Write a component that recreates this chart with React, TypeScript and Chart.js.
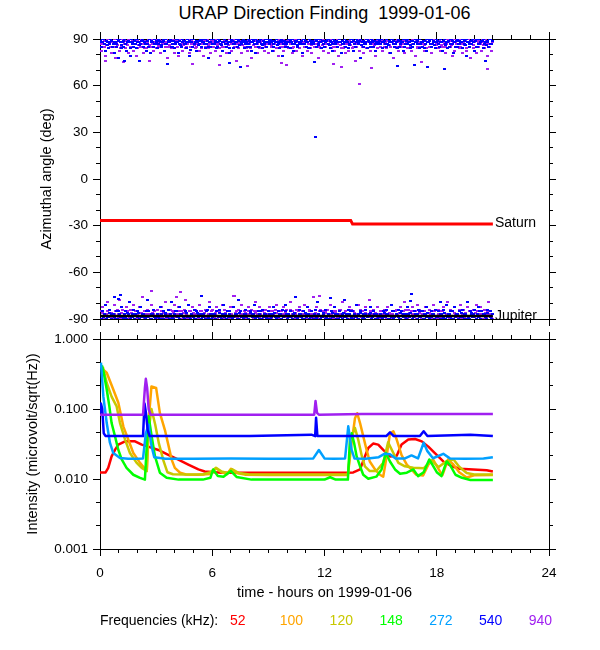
import { useEffect, useRef } from 'react';
import { Chart, registerables } from 'chart.js';

Chart.register(...registerables);

const FONT = '"Liberation Sans", Arial, Helvetica, sans-serif';

// ---------- axes ----------
const HOUR_TICKS = [0, 6, 12, 18, 24];
const HOUR_MINOR = [1, 2, 3, 4, 5, 7, 8, 9, 10, 11, 13, 14, 15, 16, 17, 19, 20, 21, 22, 23];
const ANGLE_TICKS = [-90, -60, -30, 0, 30, 60, 90];
const ANGLE_MINOR = [-80, -70, -50, -40, -20, -10, 10, 20, 40, 50, 70, 80];
const INTENSITY_TICKS = [0.001, 0.01, 0.1, 1];
const INTENSITY_MINOR = [0.00215, 0.00464, 0.0215, 0.0464, 0.215, 0.464];

// ---------- frequencies ----------
const FREQ_LABELS = ['52', '100', '120', '148', '272', '540', '940'];
const FREQ_COLORS = ['#FF0000', '#FFA500', '#C8C800', '#00FF00', '#00A0FF', '#0000FF', '#A020F0'];

// ---------- upper panel: body directions ----------
const SATURN_T = [0, 13.4, 13.5, 21];
const SATURN_ANGLE = [-26.6, -26.6, -29.0, -29.0];
const JUPITER_T = [0, 21];
const JUPITER_ANGLE = [-88, -88];

// direction-finding samples: two interleaved passes (A at i*step, B at (i+0.5)*step),
// offsets in degrees from the +90 / -90 edge
const DF_STEP_H = 0.075;
const TOP_540_OFFSET = [
  2,5,0,3,8,2,6,3,1,5,9,2,3,12,0,6,2,5,3,8,1,2,11,3,5,0,6,2,14,3,1,5,2,8,3,0,9,2,5,3,
  1,6,3,2,5,0,8,3,16,2,1,5,3,6,2,0,9,3,5,2,1,3,6,2,11,0,5,3,2,8,1,3,5,2,0,6,3,12,2,5,
  3,0,2,6,5,1,3,8,2,0,5,3,9,2,1,6,3,2,5,0,18,3,2,6,1,5,3,2,8,0,3,9,2,5,1,3,6,2,0,5,
  2,3,1,8,5,2,0,3,6,2,11,1,5,3,2,0,6,3,8,2,1,5,3,2,9,0,3,5,2,6,1,3,2,15,5,0,3,2,6,1,
  5,2,0,3,6,2,8,1,3,5,2,0,9,3,2,5,1,6,3,2,0,8,5,2,3,1,12,2,5,3,0,6,2,3,1,5,8,2,3,0,
  3,6,2,1,5,3,2,9,0,3,5,2,6,1,3,2,8,5,0,3,2,6,1,5,17,2,3,0,6,2,5,1,3,8,2,0,5,3,2,6,
  0,3,5,2,8,1,3,2,6,5,0,3,9,2,1,5,3,2,6,0,3,11,2,5,1,3,2,8,0,5,3,2,1,6,3,14,2,5,0,3,
];
const TOP_540_OFFSET_B = [
  1,2,0,3,1,4,2,0,1,3,2,5,0,1,2,4,1,0,3,2,1,6,0,2,1,3,0,2,4,1,0,2,3,1,5,0,1,2,0,3,
  2,0,1,4,2,1,0,3,1,2,0,5,1,3,0,2,1,4,0,1,3,2,0,1,7,2,0,3,1,2,4,0,1,2,3,0,1,5,2,0,
  0,3,1,2,0,1,4,2,0,3,1,2,6,0,1,3,2,0,1,4,2,1,0,3,2,0,1,5,2,1,0,3,1,2,0,4,1,3,2,0,
  1,0,2,3,1,0,4,2,1,0,3,1,2,5,0,1,2,0,3,1,4,0,2,1,3,0,1,2,6,0,2,1,3,0,1,4,2,0,1,3,
  2,1,0,4,1,3,0,2,1,5,0,2,1,3,0,1,2,4,0,2,1,3,0,1,2,0,4,1,3,2,0,1,5,0,2,1,3,0,2,1,
  0,2,1,3,0,4,1,2,0,1,3,2,0,5,1,2,0,3,1,0,2,4,1,3,0,2,1,0,3,2,1,6,0,2,1,3,0,1,4,2,
  1,3,0,2,1,0,4,2,1,3,0,1,2,5,0,3,1,2,0,1,4,0,2,3,1,0,2,1,5,0,3,2,1,0,2,4,1,0,3,1,
];
const TOP_940_OFFSET = [
  3,8,2,5,11,0,6,3,9,2,5,12,3,1,8,5,2,15,6,3,9,0,5,2,8,3,11,6,2,5,1,9,3,6,2,14,5,0,8,3,
  6,2,5,9,1,3,8,2,12,5,0,6,3,9,2,5,11,1,3,8,2,6,5,0,9,3,16,2,6,5,1,8,3,2,11,5,0,6,3,9,
  2,5,8,0,3,6,11,2,5,1,9,3,6,2,8,0,5,14,3,6,2,9,1,5,3,8,2,6,12,0,3,5,9,2,6,1,3,8,5,2,
  9,1,5,3,8,2,6,11,0,3,5,8,2,17,6,1,3,9,5,2,8,0,6,3,11,2,5,1,8,3,6,9,2,5,0,3,12,6,2,8,
  1,5,3,9,2,6,0,8,5,3,11,2,6,1,5,9,3,8,2,0,6,5,14,3,2,8,1,5,9,3,6,2,0,8,5,3,11,2,6,1,
  5,8,2,3,6,1,9,5,2,12,3,6,0,8,2,5,3,9,1,6,2,5,8,3,0,11,6,2,5,15,3,8,1,6,2,5,9,3,0,6,
  3,6,1,8,5,2,9,3,6,0,5,11,2,8,3,1,6,5,9,2,3,8,0,5,12,3,6,2,9,1,5,3,8,2,6,0,11,5,3,8,
];
const TOP_940_OFFSET_B = [
  2,0,3,1,4,2,0,5,1,3,0,2,4,1,6,0,2,3,1,4,0,2,5,1,3,0,1,4,2,0,3,6,1,2,0,4,1,3,2,0,
  1,4,0,2,3,1,5,0,2,4,1,3,0,2,1,5,3,0,2,4,1,0,3,2,5,1,0,4,2,3,1,0,6,2,1,3,0,4,2,1,
  3,1,0,4,2,1,3,5,0,2,1,4,0,3,2,1,5,0,2,3,1,4,0,2,6,1,3,0,2,4,1,0,3,5,2,1,0,4,2,3,
  0,2,4,1,3,0,2,1,5,3,0,2,4,1,0,3,2,6,1,0,4,2,3,1,0,5,2,1,3,0,4,2,1,3,0,2,5,1,4,0,
  2,3,1,0,4,2,5,1,3,0,2,4,1,6,0,3,2,1,4,0,2,3,5,1,0,2,4,1,3,0,2,1,5,3,0,4,2,1,3,2,
  1,0,5,2,3,1,4,0,2,3,1,5,0,2,4,1,3,0,2,6,1,4,0,3,2,1,5,0,2,3,1,4,0,2,1,3,5,0,2,4,
  3,2,0,4,1,3,5,0,2,1,4,3,0,2,5,1,0,3,2,4,1,6,0,2,3,1,4,0,5,2,1,3,0,4,2,1,3,5,0,2,
];
const BOT_540_OFFSET = [
  2,0,5,3,9,2,1,6,3,2,14,0,5,2,3,8,1,2,5,0,3,11,2,1,6,3,2,5,0,8,2,3,1,5,12,2,0,3,6,2,
  1,3,2,8,0,5,2,3,1,6,2,11,0,3,5,2,1,8,3,2,0,5,2,9,1,3,2,6,0,5,3,2,15,1,3,2,5,0,8,2,
  3,2,0,5,2,6,1,3,9,2,0,5,3,2,1,8,2,3,0,12,5,2,1,3,6,2,0,5,2,3,9,1,2,5,3,0,6,2,3,1,
  5,0,2,3,8,1,2,5,3,0,6,2,9,3,1,2,5,0,3,14,2,1,6,3,2,5,0,3,8,2,1,5,2,3,0,11,2,5,1,3,
  2,6,0,3,2,5,1,8,3,2,0,5,2,3,12,1,2,6,3,0,5,2,1,9,3,2,5,0,3,6,2,1,3,8,2,5,0,3,2,1,
  3,1,5,2,6,3,0,2,9,5,1,3,2,6,0,5,3,2,1,8,3,2,16,0,5,2,3,6,1,2,5,0,3,8,2,1,5,3,2,6,
  1,5,2,3,0,6,2,9,1,3,5,2,0,8,3,2,5,1,6,2,3,0,11,2,5,3,1,6,2,3,8,0,5,2,3,1,6,2,5,0,
];
const BOT_540_OFFSET_B = [
  0,2,1,3,0,1,4,2,0,3,1,2,0,5,1,2,0,3,1,4,2,0,1,3,0,2,1,4,0,1,3,2,0,1,5,2,0,3,1,0,
  2,1,0,3,2,0,4,1,2,0,3,1,0,2,5,1,0,3,2,1,0,4,1,2,0,3,1,0,2,4,1,3,0,1,2,0,6,1,3,0,
  1,3,0,2,1,4,0,2,1,3,0,1,5,2,0,1,3,2,0,4,1,2,0,3,1,0,2,4,1,3,0,2,1,0,5,2,1,3,0,2,
  3,0,1,2,4,0,2,1,3,0,1,2,5,0,3,1,2,0,4,1,0,2,3,1,0,2,4,1,3,0,1,2,0,6,1,3,2,0,1,4,
  0,1,3,2,0,4,1,2,0,3,2,1,0,4,1,3,0,2,5,1,0,3,1,2,0,4,2,1,0,3,1,2,4,0,1,3,2,0,1,2,
  2,0,4,1,3,0,2,1,5,0,2,3,1,0,4,2,1,3,0,2,1,4,0,1,3,2,0,5,1,2,0,3,1,4,0,2,1,3,0,1,
  1,2,0,3,1,4,0,2,3,1,0,5,2,1,3,0,2,4,1,0,3,2,1,0,4,1,3,2,0,1,5,0,2,3,1,0,4,2,1,3,
];
const BOT_940_OFFSET = [
  5,2,8,0,3,11,2,6,3,1,9,5,2,3,12,0,6,2,5,8,3,1,6,2,9,5,0,3,8,2,14,1,5,3,6,2,0,9,3,5,
  2,6,3,1,8,5,2,11,3,0,6,2,5,9,1,3,8,2,5,0,6,12,3,2,5,1,8,3,6,2,0,9,5,3,2,6,1,3,11,2,
  6,0,3,8,2,5,1,9,3,6,2,5,0,8,3,15,2,5,1,6,3,9,2,5,0,3,8,2,6,1,5,11,3,2,8,0,5,3,6,2,
  3,8,1,5,2,6,9,0,3,5,2,8,1,6,3,2,11,5,0,3,6,2,8,1,5,3,9,2,0,6,5,3,14,2,8,1,3,6,2,5,
  1,5,6,2,9,3,0,8,5,2,3,6,1,11,2,5,3,0,8,6,2,5,1,3,9,2,6,5,0,8,3,2,12,1,5,6,3,2,8,0,
  5,3,1,6,2,8,3,0,9,5,2,6,3,1,8,2,5,11,0,3,6,2,5,8,1,3,9,2,6,0,5,3,8,2,1,6,5,3,9,2,
  2,6,3,1,5,8,2,3,11,0,6,5,2,8,3,1,5,9,2,6,3,0,8,5,2,3,6,1,9,5,2,8,3,0,6,2,5,11,3,1,
];
const BOT_940_OFFSET_B = [
  2,4,1,0,3,5,2,1,4,0,3,2,6,1,0,4,2,3,1,5,0,2,4,1,3,0,5,2,1,4,3,0,2,6,1,3,0,4,2,1,
  0,3,2,5,1,4,0,2,3,1,6,0,4,2,1,3,5,0,2,4,1,3,0,2,5,1,4,0,3,2,1,5,0,3,4,2,1,0,3,5,
  3,1,4,0,2,5,1,3,0,4,2,1,5,3,0,2,4,1,6,0,3,2,1,4,0,5,2,3,1,0,4,2,5,1,3,0,2,4,1,3,
  1,5,0,3,2,4,1,0,5,2,3,1,4,0,2,6,1,3,0,4,2,5,1,3,0,2,4,1,3,5,0,2,1,4,3,0,5,2,1,4,
  4,0,2,3,1,5,0,4,2,1,3,6,0,2,4,1,3,0,5,2,1,4,3,0,2,5,1,3,0,4,2,1,5,0,3,2,4,1,0,3,
  2,1,3,5,0,2,4,1,3,0,5,2,1,4,0,3,2,6,1,0,4,2,3,1,5,0,2,4,1,3,0,5,2,1,4,3,0,2,5,1,
  0,3,5,1,2,4,0,3,1,5,2,0,4,3,1,2,6,0,3,1,4,2,0,5,3,1,2,4,0,3,1,5,2,0,4,1,3,2,5,0,
];
// isolated direction samples
const OUT_540_T = [1.3, 6.9, 11.5, 15.9, 17.5, 18.4, 1.0, 1.07, 12.3, 16.6, 18.2];
const OUT_540_ANGLE = [75.6, 74.3, 27, 72.8, 71.8, 70.9, -77, -74.7, -76.6, -78.3, -79];
const OUT_940_T = [0.27, 6.4, 7.9, 9.7, 12.5, 12.9, 13.85, 14.5, 20.7, 2.76, 4.1, 4.31, 7.2, 11.75];
const OUT_940_ANGLE = [75.6, 73.2, 72.8, 74.4, 73.9, 72.0, 61, 71.5, 70.9, -72, -76, -72.6, -75.5, -75.4];

// ---------- lower panel: intensity (microvolt/sqrt(Hz)) ----------
const T_52 = [0, 0.3, 0.44, 0.62, 0.8, 0.98, 1.34, 1.87, 2.23, 2.58, 3.12, 3.65, 4.19, 4.72, 5.26, 5.6, 6.5, 8, 10, 12, 13.18, 13.54, 13.9, 14.16, 14.34, 14.6, 14.87, 15.14, 15.5, 15.86, 16.12, 16.48, 16.84, 17.2, 17.55, 17.9, 18.35, 18.8, 19.24, 19.95, 20.67, 21];
const V_52 = [0.0124, 0.0124, 0.0144, 0.021, 0.026, 0.031, 0.0345, 0.0345, 0.031, 0.029, 0.026, 0.0222, 0.0189, 0.0161, 0.0137, 0.0128, 0.0123, 0.0123, 0.0123, 0.0123, 0.0123, 0.0124, 0.0137, 0.021, 0.0277, 0.0321, 0.031, 0.026, 0.021, 0.0215, 0.031, 0.0366, 0.0373, 0.0345, 0.029, 0.0235, 0.0178, 0.0152, 0.014, 0.0137, 0.0133, 0.0128];

const T_100 = [0.1, 0.36, 0.71, 0.98, 1.25, 1.51, 1.78, 2.14, 2.5, 2.62, 2.75, 3.0, 3.2, 3.47, 3.65, 3.83, 4.0, 4.28, 4.6, 5.2, 5.9, 6.2, 6.5, 6.8, 7.0, 7.3, 7.8, 9, 11, 12.3, 13.25, 13.45, 13.63, 13.75, 13.9, 14.07, 14.25, 14.42, 14.7, 14.96, 15.14, 15.32, 15.5, 15.68, 15.86, 16.12, 16.4, 16.65, 16.9, 17.27, 17.55, 17.8, 18.05, 18.3, 18.6, 18.9, 19.2, 19.6, 20, 21];
const V_100 = [0.38, 0.33, 0.19, 0.123, 0.056, 0.0366, 0.0235, 0.017, 0.013, 0.08, 0.21, 0.2, 0.088, 0.05, 0.031, 0.0189, 0.0144, 0.0123, 0.0116, 0.0115, 0.0118, 0.0142, 0.0125, 0.0118, 0.014, 0.0122, 0.0115, 0.0114, 0.0114, 0.0114, 0.0114, 0.033, 0.074, 0.087, 0.063, 0.041, 0.026, 0.0178, 0.0137, 0.0115, 0.0108, 0.021, 0.045, 0.048, 0.0366, 0.022, 0.016, 0.0137, 0.0115, 0.0112, 0.016, 0.019, 0.0145, 0.0113, 0.019, 0.016, 0.0125, 0.0105, 0.0113, 0.0114];

const T_120 = [0.15, 0.36, 0.62, 0.89, 1.07, 1.34, 1.6, 1.96, 2.23, 2.5, 2.6, 2.75, 2.95, 3.15, 3.4, 3.6, 3.9, 4.5, 5.5, 5.9, 6.2, 6.5, 6.8, 7.05, 7.4, 8, 10, 12, 13.25, 13.45, 13.63, 13.8, 14.0, 14.16, 14.42, 14.77, 15.14, 15.4, 15.68, 15.95, 16.3, 16.75, 17.3, 17.72, 18.1, 18.5, 18.9, 19.2, 19.6, 20, 21];
const V_120 = [0.40, 0.235, 0.15, 0.109, 0.063, 0.0366, 0.0235, 0.017, 0.0144, 0.013, 0.05, 0.1, 0.06, 0.032, 0.018, 0.0125, 0.0117, 0.0116, 0.0116, 0.0125, 0.0145, 0.0128, 0.0122, 0.0138, 0.0122, 0.0116, 0.0116, 0.0116, 0.0116, 0.041, 0.0536, 0.0366, 0.021, 0.0152, 0.013, 0.013, 0.017, 0.0334, 0.0235, 0.017, 0.0152, 0.0145, 0.0142, 0.0185, 0.0148, 0.0178, 0.019, 0.015, 0.0122, 0.0116, 0.0116];

const T_148 = [0.1, 0.2, 0.36, 0.5, 0.62, 0.8, 0.98, 1.16, 1.42, 1.78, 2.14, 2.4, 2.5, 2.6, 2.76, 2.94, 3.2, 3.56, 4.2, 5.5, 5.9, 6.05, 6.3, 6.6, 7.0, 7.3, 8.1, 10, 12, 12.3, 12.6, 13.25, 13.36, 13.45, 13.58, 13.72, 13.9, 14.07, 14.34, 14.77, 15.05, 15.28, 15.5, 15.77, 16.04, 16.4, 16.75, 17.0, 17.3, 17.6, 18.0, 18.25, 18.53, 18.7, 19.0, 19.35, 19.8, 21];
const V_148 = [0.42, 0.33, 0.19, 0.109, 0.063, 0.041, 0.026, 0.019, 0.0144, 0.0115, 0.0104, 0.0098, 0.03, 0.079, 0.041, 0.021, 0.0123, 0.0104, 0.0098, 0.0098, 0.0104, 0.0137, 0.011, 0.0108, 0.013, 0.0107, 0.0098, 0.0098, 0.0098, 0.0106, 0.0098, 0.0098, 0.0366, 0.045, 0.033, 0.021, 0.0152, 0.0115, 0.0101, 0.0108, 0.0137, 0.0235, 0.0178, 0.0137, 0.0119, 0.0123, 0.0137, 0.011, 0.0125, 0.019, 0.0125, 0.011, 0.0178, 0.016, 0.0115, 0.0104, 0.0097, 0.0097];

const T_272 = [0.05, 0.18, 0.36, 0.53, 0.71, 1.07, 1.5, 2.0, 2.3, 2.45, 2.6, 2.75, 2.9, 3.5, 5, 7, 9, 10.5, 11.4, 11.7, 12.0, 12.5, 13.1, 13.27, 13.45, 13.6, 14.2, 14.9, 15.2, 15.5, 15.8, 16.3, 16.65, 17.0, 17.3, 17.5, 17.8, 18.35, 18.7, 19.5, 20.5, 21];
const V_272 = [0.46, 0.15, 0.063, 0.033, 0.0235, 0.020, 0.0195, 0.0195, 0.0197, 0.045, 0.06, 0.03, 0.0205, 0.0195, 0.0195, 0.0197, 0.0195, 0.0195, 0.0197, 0.026, 0.0197, 0.0195, 0.0197, 0.0565, 0.026, 0.0197, 0.0195, 0.0205, 0.0229, 0.0225, 0.0197, 0.0197, 0.0217, 0.0197, 0.033, 0.025, 0.0198, 0.0229, 0.0197, 0.0195, 0.0197, 0.0205];

const T_540 = [0, 0.05, 0.12, 0.2, 0.3, 2.3, 2.38, 2.45, 2.55, 2.65, 5, 8, 11.3, 11.5, 11.55, 11.62, 13, 15.3, 15.5, 15.7, 17.1, 17.3, 17.5, 19.8, 21];
const V_540 = [0.09, 0.12, 0.1, 0.045, 0.041, 0.041, 0.12, 0.09, 0.05, 0.041, 0.041, 0.041, 0.043, 0.041, 0.075, 0.041, 0.041, 0.041, 0.0465, 0.041, 0.041, 0.048, 0.041, 0.043, 0.041];

const T_940 = [0, 2.3, 2.4, 2.45, 2.52, 2.6, 2.7, 6, 9, 11.45, 11.52, 11.6, 11.7, 14, 17, 21];
const V_940 = [0.083, 0.083, 0.2, 0.27, 0.2, 0.1, 0.083, 0.083, 0.083, 0.083, 0.13, 0.088, 0.083, 0.0845, 0.0845, 0.0845];

const SERIES_T = [T_52, T_100, T_120, T_148, T_272, T_540, T_940];
const SERIES_V = [V_52, V_100, V_120, V_148, V_272, V_540, V_940];

// ---------- helpers ----------
const MAJOR_LEN = 7;
const MINOR_LEN = 4;
const TICK_FONT = { family: FONT, size: 13.5 };
const TITLE_FONT = { family: FONT, size: 14.5 };

const zip = (ts: number[], vs: number[]) => ts.map((t, i) => ({ x: t, y: vs[i] }));
const band = (offsets: number[], edge: number, dir: number, phase: number) =>
  offsets.map((o, i) => ({ x: (i + phase) * DF_STEP_H, y: edge + dir * o }));

const GRID = { drawOnChartArea: false, drawTicks: true, tickLength: MAJOR_LEN, color: '#000', lineWidth: 1 };
const BORDER = { display: true, color: '#000', width: 1 };
const setTicks = (vals: number[]) => (s: any) => {
  s.ticks = vals.map((value) => ({ value }));
};
const fixWidth = (w: number) => (s: any) => {
  s.width = w;
  s.paddingTop = 0;
  s.paddingBottom = 0;
};
const fixHeight = (h: number) => (s: any) => {
  s.height = h;
  s.paddingLeft = 0;
  s.paddingRight = 0;
};

function dash(color: string) {
  const c = document.createElement('canvas');
  c.width = 3;
  c.height = 2;
  const g = c.getContext('2d') as CanvasRenderingContext2D;
  g.fillStyle = color;
  g.fillRect(0, 0, 3, 2);
  return c;
}

// crisp (nearest-neighbour) drawing of the dash images
const crispPoints = {
  id: 'crispPoints',
  beforeDatasetsDraw(chart: any) {
    chart.ctx.imageSmoothingEnabled = false;
  },
  afterDatasetsDraw(chart: any) {
    chart.ctx.imageSmoothingEnabled = true;
  },
};

function minorTicks(spec: { axis: string; values: number[] }[]) {
  return {
    id: 'minorTicks',
    afterDraw(chart: any) {
      const { ctx, chartArea: ca } = chart;
      const al = (p: number) => Math.round(p - 0.5) + 0.5;
      ctx.save();
      ctx.strokeStyle = '#000';
      ctx.lineWidth = 1;
      ctx.beginPath();
      for (const { axis, values } of spec) {
        const s = chart.scales[axis];
        for (const v of values) {
          const p = al(s.getPixelForValue(v));
          if (s.position === 'left') { ctx.moveTo(ca.left, p); ctx.lineTo(ca.left - MINOR_LEN, p); }
          else if (s.position === 'right') { ctx.moveTo(ca.right, p); ctx.lineTo(ca.right + MINOR_LEN, p); }
          else if (s.position === 'top') { ctx.moveTo(p, ca.top); ctx.lineTo(p, ca.top - MINOR_LEN); }
          else { ctx.moveTo(p, ca.bottom); ctx.lineTo(p, ca.bottom + MINOR_LEN); }
        }
      }
      ctx.stroke();
      ctx.restore();
    },
  };
}

const bodyLabels = {
  id: 'bodyLabels',
  afterDatasetsDraw(chart: any) {
    const { ctx } = chart;
    const x = chart.scales.x;
    const y = chart.scales.y;
    ctx.save();
    ctx.font = `14px ${FONT}`;
    ctx.fillStyle = '#000';
    ctx.textAlign = 'left';
    ctx.textBaseline = 'middle';
    const sl = SATURN_T.length - 1;
    ctx.fillText('Saturn', x.getPixelForValue(SATURN_T[sl]) + 2, y.getPixelForValue(SATURN_ANGLE[sl]) - 1);
    const jl = JUPITER_T.length - 1;
    ctx.fillText('Jupiter', x.getPixelForValue(JUPITER_T[jl]) + 2, y.getPixelForValue(JUPITER_ANGLE[jl]));
    ctx.restore();
  },
};

const TOP_H = 330;
const BOT_H = 320;

function topConfig(): any {
  const pts540 = [
    ...band(TOP_540_OFFSET, 90, -1, 0), ...band(TOP_540_OFFSET_B, 90, -1, 0.5),
    ...band(BOT_540_OFFSET, -90, 1, 0), ...band(BOT_540_OFFSET_B, -90, 1, 0.5),
    ...zip(OUT_540_T, OUT_540_ANGLE),
  ];
  const pts940 = [
    ...band(TOP_940_OFFSET, 90, -1, 0), ...band(TOP_940_OFFSET_B, 90, -1, 0.5),
    ...band(BOT_940_OFFSET, -90, 1, 0), ...band(BOT_940_OFFSET_B, -90, 1, 0.5),
    ...zip(OUT_940_T, OUT_940_ANGLE),
  ];
  const dot = { pointRadius: 2, pointBorderWidth: 0, showLine: false };
  const hx = { type: 'linear', min: 0, max: 24, afterBuildTicks: setTicks(HOUR_TICKS), ticks: { display: false }, grid: GRID, border: BORDER };
  return {
    type: 'scatter',
    data: {
      datasets: [
        { label: 'Saturn', data: zip(SATURN_T, SATURN_ANGLE), showLine: true, borderColor: '#FF0000', borderWidth: 3, pointRadius: 0, order: 0 },
        { label: 'Jupiter', data: zip(JUPITER_T, JUPITER_ANGLE), showLine: true, borderColor: '#000000', borderWidth: 2.5, pointRadius: 0, order: 1 },
        { label: '540 kHz', data: pts540, ...dot, pointStyle: dash(FREQ_COLORS[5]), pointBackgroundColor: FREQ_COLORS[5], order: 2 },
        { label: '940 kHz', data: pts940, ...dot, pointStyle: dash(FREQ_COLORS[6]), pointBackgroundColor: FREQ_COLORS[6], order: 3 },
      ],
    },
    options: {
      responsive: false,
      animation: false,
      events: [],
      layout: { padding: 0 },
      plugins: { legend: { display: false }, tooltip: { enabled: false } },
      scales: {
        x: { ...hx, position: 'bottom', afterFit: fixHeight(TOP_H - 319) },
        xTop: { ...hx, position: 'top', afterFit: fixHeight(39) },
        y: {
          type: 'linear', position: 'left', min: -90, max: 90,
          afterBuildTicks: setTicks(ANGLE_TICKS),
          ticks: { font: TICK_FONT, color: '#000', padding: 5 },
          title: { display: true, text: 'Azimuthal angle (deg)', color: '#000', font: TITLE_FONT, padding: { top: 38, bottom: 0 } },
          grid: GRID, border: BORDER,
          afterFit: fixWidth(100),
        },
        yRight: {
          type: 'linear', position: 'right', min: -90, max: 90,
          afterBuildTicks: setTicks(ANGLE_TICKS),
          ticks: { display: false }, grid: GRID, border: BORDER,
          afterFit: fixWidth(51),
        },
      },
    },
    plugins: [
      crispPoints,
      minorTicks([
        { axis: 'x', values: HOUR_MINOR },
        { axis: 'xTop', values: HOUR_MINOR },
        { axis: 'y', values: ANGLE_MINOR },
        { axis: 'yRight', values: ANGLE_MINOR },
      ]),
      bodyLabels,
    ],
  };
}

function bottomConfig(): any {
  const n = FREQ_LABELS.length;
  const datasets = FREQ_LABELS.map((f, i) => ({
    label: `${f} kHz`,
    data: zip(SERIES_T[i], SERIES_V[i]),
    showLine: true,
    borderColor: FREQ_COLORS[i],
    borderWidth: 2.5,
    borderJoinStyle: 'round',
    pointRadius: 0,
    order: n - i,
  }));
  return {
    type: 'scatter',
    data: { datasets },
    options: {
      responsive: false,
      animation: false,
      events: [],
      layout: { padding: 0 },
      plugins: { legend: { display: false }, tooltip: { enabled: false } },
      scales: {
        x: {
          type: 'linear', position: 'bottom', min: 0, max: 24,
          afterBuildTicks: setTicks(HOUR_TICKS),
          ticks: { font: TICK_FONT, color: '#000', padding: 9, maxRotation: 0, callback: (v: any) => String(v) },
          title: { display: true, text: 'time - hours on 1999-01-06', color: '#000', font: TITLE_FONT, padding: { top: 0, bottom: 48 } },
          grid: GRID, border: BORDER,
          afterFit: fixHeight(BOT_H - 219),
        },
        xTop: {
          type: 'linear', position: 'top', min: 0, max: 24,
          afterBuildTicks: setTicks(HOUR_TICKS),
          ticks: { display: false }, grid: GRID, border: BORDER,
          afterFit: fixHeight(9),
        },
        y: {
          type: 'logarithmic', position: 'left', min: 0.001, max: 1,
          afterBuildTicks: setTicks(INTENSITY_TICKS),
          ticks: { font: TICK_FONT, color: '#000', padding: 5, callback: (v: any) => Number(v).toFixed(3) },
          title: { display: true, text: 'Intensity (microvolt/sqrt(Hz))', color: '#000', font: TITLE_FONT, padding: { top: 24, bottom: 0 } },
          grid: GRID, border: BORDER,
          afterFit: fixWidth(100),
        },
        yRight: {
          type: 'logarithmic', position: 'right', min: 0.001, max: 1,
          afterBuildTicks: setTicks(INTENSITY_TICKS),
          ticks: { display: false }, grid: GRID, border: BORDER,
          afterFit: fixWidth(51),
        },
      },
    },
    plugins: [
      minorTicks([
        { axis: 'x', values: HOUR_MINOR },
        { axis: 'xTop', values: HOUR_MINOR },
        { axis: 'y', values: INTENSITY_MINOR },
        { axis: 'yRight', values: INTENSITY_MINOR },
      ]),
    ],
  };
}

export default function App() {
  const topRef = useRef<HTMLCanvasElement>(null);
  const botRef = useRef<HTMLCanvasElement>(null);

  useEffect(() => {
    const a = new Chart(topRef.current as HTMLCanvasElement, topConfig());
    const b = new Chart(botRef.current as HTMLCanvasElement, bottomConfig());
    return () => {
      a.destroy();
      b.destroy();
    };
  }, []);

  const text = { position: 'absolute' as const, fontFamily: FONT, whiteSpace: 'pre' as const };

  return (
    <div style={{ position: 'fixed', left: 0, top: 0, width: 600, height: 650, background: '#fff', color: '#000', overflow: 'hidden' }}>
      <div style={{ ...text, left: 0, top: 3, width: 649, textAlign: 'center', fontSize: 18, lineHeight: '20px' }}>
        {'URAP Direction Finding  1999-01-06'}
      </div>
      <canvas ref={topRef} width={600} height={TOP_H} style={{ position: 'absolute', left: 0, top: 0, display: 'block' }} />
      <canvas ref={botRef} width={600} height={BOT_H} style={{ position: 'absolute', left: 0, top: TOP_H, display: 'block' }} />
      <div style={{ ...text, left: 100, top: 612, fontSize: 14, lineHeight: '16px' }}>Frequencies (kHz):</div>
      {FREQ_LABELS.map((f, i) => (
        <div key={f} style={{ ...text, left: 230 + i * 49.8, top: 612, fontSize: 14, lineHeight: '16px', color: FREQ_COLORS[i] }}>
          {f}
        </div>
      ))}
    </div>
  );
}
